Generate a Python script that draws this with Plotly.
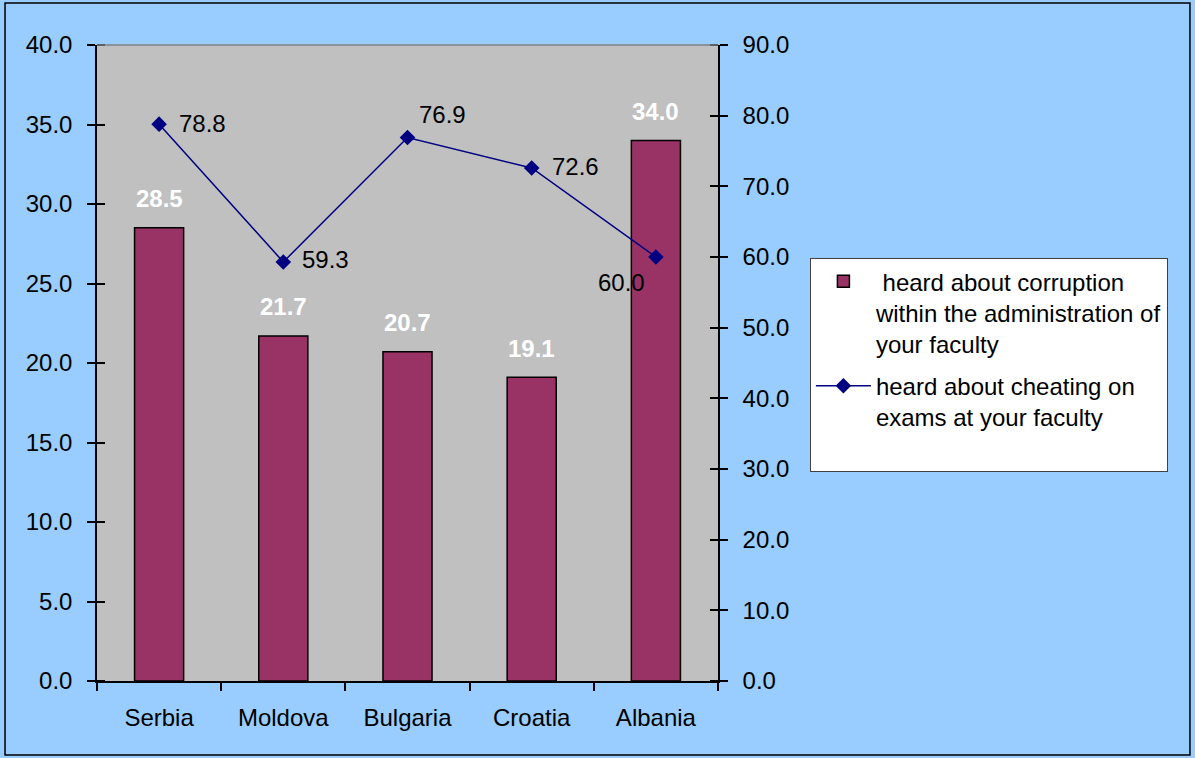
import plotly.graph_objects as go

countries = ["Serbia", "Moldova", "Bulgaria", "Croatia", "Albania"]
corruption = [28.5, 21.7, 20.7, 19.1, 34.0]
cheating = [78.8, 59.3, 76.9, 72.6, 60.0]
left_ticks = [0, 5, 10, 15, 20, 25, 30, 35, 40]
right_ticks = [0, 10, 20, 30, 40, 50, 60, 70, 80, 90]

FONT = "Liberation Sans, Arial, sans-serif"
FS = 24

# label placement styles for the line labels (anchor, xshift, yshift)
line_label_style = [
    ("left", 18, 1),
    ("left", 17, 2),
    ("left", 9, 23),
    ("left", 18, 1),
    ("right", -9, -25),
]

fig = go.Figure()
fig.add_trace(go.Bar(
    x=countries, y=corruption,
    name=" heard about corruption<br>within the administration of<br>your faculty",
    legendgroup="a",
    marker=dict(color="#993366", line=dict(color="black", width=1.5)),
    width=0.395,
    yaxis="y",
))
fig.add_trace(go.Scatter(
    x=countries, y=cheating,
    name="heard about cheating on<br>exams at your faculty<br> ",
    legendgroup="b",
    mode="lines+markers",
    line=dict(color="#000080", width=1.5),
    marker=dict(symbol="diamond", size=12, color="#000080"),
    cliponaxis=False,
    yaxis="y2",
))

annotations = []
for c, v in zip(countries, corruption):
    annotations.append(dict(
        x=c, y=v, xref="x", yref="y", text=f"{v:.1f}", showarrow=False,
        xanchor="center", yanchor="middle", yshift=29,
        font=dict(color="white", size=FS, family=FONT, weight="bold"),
    ))
for c, v, (anc, xs, ys) in zip(countries, cheating, line_label_style):
    annotations.append(dict(
        x=c, y=v, xref="x", yref="y2", text=f"{v:.1f}", showarrow=False,
        xanchor=anc, yanchor="middle", xshift=xs, yshift=ys,
        font=dict(color="black", size=FS, family=FONT),
    ))

fig.update_layout(
    width=1195, height=758,
    paper_bgcolor="#99CCFF",
    plot_bgcolor="#C0C0C0",
    margin=dict(l=97, r=477, t=45, b=77),
    font=dict(family=FONT, size=FS, color="black"),
    xaxis=dict(
        type="category",
        showline=True, linecolor="black", linewidth=1.5,
        ticks="outside", ticklen=8, tickcolor="black", tickwidth=1.5,
        tickson="boundaries",
        ticklabelstandoff=14,
        showgrid=False,
        tickfont=dict(size=FS),
    ),
    yaxis=dict(
        range=[0, 40], tickvals=left_ticks, tickformat=".1f",
        showline=True, linecolor="black", linewidth=1.5,
        ticks="outside", ticklen=8, tickcolor="black", tickwidth=1.5,
        minor=dict(tickvals=[t + 1e-6 for t in left_ticks], ticks="inside",
                   ticklen=8, tickcolor="black", tickwidth=1.5, showgrid=False),
        ticklabelstandoff=10,
        showgrid=False, zeroline=False,
        tickfont=dict(size=FS),
    ),
    yaxis2=dict(
        range=[0, 90], tickvals=right_ticks, tickformat=".1f",
        overlaying="y", side="right",
        showline=True, linecolor="black", linewidth=1.5,
        ticks="outside", ticklen=8, tickcolor="black", tickwidth=1.5,
        minor=dict(tickvals=[t + 1e-6 for t in right_ticks], ticks="inside",
                   ticklen=8, tickcolor="black", tickwidth=1.5, showgrid=False),
        ticklabelstandoff=10,
        showgrid=False, zeroline=False,
        tickfont=dict(size=FS),
    ),
    legend=dict(
        x=1.148, y=0.665, xanchor="left", yanchor="top",
        bgcolor="white", bordercolor="#404040", borderwidth=1,
        font=dict(size=FS),
        valign="top",
        itemwidth=55,
        traceorder="grouped",
        tracegroupgap=8,
    ),
    showlegend=True,
    annotations=annotations,
    shapes=[
        dict(type="line", xref="paper", yref="paper", x0=0, x1=1, y0=1, y1=1,
             line=dict(color="#808080", width=1.5)),
        dict(type="rect", xref="paper", yref="paper",
             x0=-0.1481, x1=1.760, y0=-0.1164, y1=1.066,
             line=dict(color="black", width=1.5), layer="below"),
    ],
)

fig.write_html("out.html", config={"displayModeBar": False},
               post_script="document.body.style.margin='0px';")
